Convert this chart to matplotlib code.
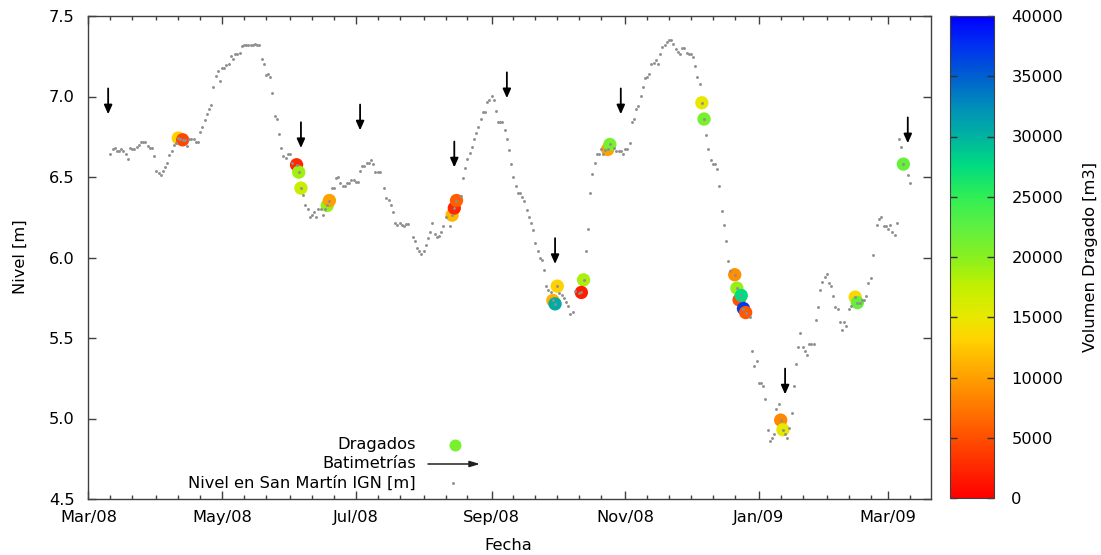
import datetime as dt
import numpy as np
import matplotlib
matplotlib.use("Agg")
import matplotlib.pyplot as plt
import matplotlib.dates as mdates
from matplotlib.colors import LinearSegmentedColormap, Normalize
from matplotlib.cm import ScalarMappable

plt.rcParams["font.family"] = ["DejaVu Sans"]
plt.rcParams["font.size"] = 11.7

inicio = dt.datetime(2008, 3, 1)

# Nivel diario en San Martín (días desde el 1/3/2008, nivel en m IGN)
nivel_dias = [
    10, 11, 12, 13, 14, 15, 16, 17, 18, 19, 20, 21, 22, 23, 24, 25, 26, 27, 28, 29,
    30, 31, 32, 33, 34, 35, 36, 37, 38, 39, 40, 41, 42, 43, 44, 45, 46, 47, 48, 49,
    50, 51, 52, 53, 54, 55, 56, 57, 58, 59, 60, 61, 62, 63, 64, 65, 66, 67, 68, 69,
    70, 71, 72, 73, 74, 75, 76, 77, 78, 79, 80, 81, 82, 83, 84, 85, 86, 87, 88, 89,
    90, 91, 92, 93, 95, 96, 97, 98, 99, 100, 101, 102, 103, 104, 105, 106, 107, 108, 109,
    110, 111, 112, 113, 114, 115, 116, 117, 118, 119, 120, 121, 122, 123, 124, 125, 126,
    127, 128, 129, 130, 131, 132, 133, 135, 136, 137, 138, 139, 140, 141, 142, 143, 144,
    145, 146, 148, 149, 150, 151, 152, 153, 154, 155, 156, 157, 158, 159, 160, 161, 162,
    163, 165, 166, 167, 168, 170, 171, 172, 173, 174, 175, 176, 177, 178, 179, 180, 181,
    182, 183, 184, 185, 186, 187, 188, 189, 190, 191, 192, 193, 194, 195, 196, 197, 198,
    199, 200, 201, 202, 203, 204, 205, 206, 207, 208, 209, 210, 211, 212, 213, 214, 215,
    216, 217, 218, 219, 220, 221, 222, 224, 225, 226, 227, 228, 229, 230, 231, 232, 233,
    234, 235, 236, 237, 238, 240, 241, 242, 243, 244, 245, 246, 247, 248, 249, 250, 251,
    252, 253, 254, 255, 256, 257, 258, 259, 260, 261, 262, 263, 264, 265, 266, 267, 268,
    269, 270, 271, 272, 273, 274, 275, 276, 277, 278, 279, 280, 281, 282, 283, 284, 285,
    286, 287, 288, 289, 290, 291, 292, 293, 295, 296, 297, 298, 299, 300, 302, 303, 304,
    305, 306, 307, 308, 309, 310, 311, 312, 313, 314, 315, 316, 317, 318, 319, 320, 321,
    322, 323, 324, 325, 326, 327, 328, 329, 330, 331, 332, 333, 334, 335, 336, 337, 338,
    339, 340, 341, 342, 343, 344, 345, 346, 347, 348, 350, 351, 352, 353, 354, 355, 356,
    357, 358, 360, 361, 362, 363, 364, 365, 366, 367, 368, 369, 370, 371, 372, 374, 375,
]
nivel_m = [
    6.642, 6.673, 6.681, 6.663, 6.663, 6.673, 6.661, 6.640, 6.611, 6.681, 6.673, 6.673,
    6.686, 6.700, 6.720, 6.720, 6.720, 6.694, 6.681, 6.681,
    6.630, 6.540, 6.524, 6.512, 6.540, 6.561, 6.590, 6.636, 6.661, 6.698, 6.711, 6.742,
    6.735, 6.731, 6.731, 6.694, 6.739, 6.739, 6.739, 6.719,
    6.719, 6.781, 6.810, 6.851, 6.893, 6.922, 6.950, 7.058, 7.129, 7.161, 7.099, 7.174,
    7.174, 7.195, 7.203, 7.253, 7.232, 7.261, 7.265, 7.270,
    7.311, 7.319, 7.319, 7.319, 7.319, 7.319, 7.327, 7.319, 7.319, 7.236, 7.199, 7.133,
    7.141, 7.120, 7.021, 6.880, 6.860, 6.768, 6.681, 6.632,
    6.619, 6.640, 6.640, 6.590, 6.576, 6.530, 6.431, 6.391, 6.329, 6.301, 6.251, 6.263,
    6.280, 6.251, 6.304, 6.304, 6.263, 6.304, 6.323,
    6.354, 6.429, 6.429, 6.491, 6.503, 6.462, 6.441, 6.441, 6.462, 6.462, 6.483, 6.483,
    6.470, 6.470, 6.540, 6.570, 6.570,
    6.590, 6.590, 6.607, 6.578, 6.532, 6.532, 6.532, 6.433, 6.371, 6.358, 6.329, 6.284,
    6.217, 6.201, 6.217, 6.201, 6.193,
    6.209, 6.209, 6.127, 6.102, 6.060, 6.043, 6.019, 6.040, 6.077, 6.122, 6.160, 6.217,
    6.143, 6.127, 6.135, 6.160, 6.193,
    6.251, 6.193, 6.263, 6.307, 6.354, 6.379, 6.491, 6.553, 6.611, 6.648, 6.686, 6.739,
    6.773, 6.810, 6.860, 6.901, 6.901,
    6.963, 6.980, 7.004, 6.980, 6.913, 6.843, 6.843, 6.843, 6.789, 6.739, 6.665, 6.578,
    6.499, 6.441, 6.400, 6.400, 6.375,
    6.350, 6.292, 6.251, 6.217, 6.172, 6.089, 6.040, 5.998, 5.986, 5.924, 5.824, 5.799,
    5.783, 5.733, 5.712, 5.822, 5.779,
    5.766, 5.750, 5.725, 5.696, 5.650, 5.663, 5.791, 5.779, 5.783, 5.861, 6.040, 6.180,
    6.400, 6.520, 6.590, 6.640, 6.640,
    6.677, 6.644, 6.669, 6.671, 6.702, 6.681, 6.661, 6.661, 6.661, 6.640, 6.673, 6.673,
    6.711, 6.839, 6.860, 6.922, 6.942,
    7.004, 7.058, 7.112, 7.120, 7.141, 7.199, 7.211, 7.224, 7.199, 7.261, 7.307, 7.319,
    7.340, 7.352, 7.352, 7.327, 7.298,
    7.278, 7.261, 7.302, 7.302, 7.270, 7.261, 7.261, 7.248, 7.191, 7.120, 7.079, 6.961,
    6.860, 6.760, 6.673, 6.603, 6.578,
    6.578, 6.549, 6.441, 6.288, 6.201, 6.102, 5.981, 5.919, 5.893, 5.810, 5.737, 5.764,
    5.683, 5.658, 5.630, 5.422, 5.327,
    5.360, 5.220, 5.220, 5.199, 5.120, 4.930, 4.860, 4.876, 4.901, 5.058, 5.091, 4.990,
    4.930, 4.901, 4.876, 4.942, 5.037,
    5.199, 5.340, 5.443, 5.534, 5.447, 5.422, 5.397, 5.460, 5.460, 5.460, 5.609, 5.692,
    5.799, 5.849, 5.878, 5.899, 5.841,
    5.820, 5.762, 5.692, 5.680, 5.602, 5.551, 5.602, 5.576, 5.680, 5.696, 5.754, 5.720,
    5.720, 5.737, 5.737, 5.762, 5.841,
    5.870, 6.015, 6.199, 6.238, 6.251, 6.193, 6.193, 6.180, 6.201, 6.160, 6.139, 6.217,
    6.739, 6.689, 6.580, 6.512, 6.462,
]

# Dragados: día, nivel del día y volumen dragado [m3]
dragado_dias = [41, 43, 95, 96, 97, 109, 110, 166, 167, 168, 212, 213, 214, 226, 225,
                237, 238, 280, 281, 295, 296, 297, 298, 299, 300, 316, 317, 350, 351, 372]
dragado_nivel = [6.742, 6.731, 6.576, 6.530, 6.431, 6.323, 6.354, 6.263, 6.307, 6.354,
                 5.733, 5.712, 5.822, 5.861, 5.783, 6.671, 6.702, 6.961, 6.860, 5.893,
                 5.810, 5.737, 5.764, 5.683, 5.658, 4.990, 4.930, 5.754, 5.720, 6.580]
dragado_volumen = [13000, 4500, 2500, 19000, 17000, 19500, 10000, 11500, 2500, 6000,
                   11000, 30500, 13000, 18500, 2000, 10000, 21000, 15000, 21000, 9000,
                   19500, 5000, 27500, 37000, 5500, 8500, 15000, 13500, 22000, 22000]

# Batimetrías: día y nivel donde apunta la flecha
batimetria_dias = [9, 97, 124, 167, 191, 213, 243, 318, 374]
batimetria_nivel = [6.89, 6.68, 6.79, 6.56, 6.99, 5.96, 6.89, 5.15, 6.71]

ticks_volumen = [0, 5000, 10000, 15000, 20000, 25000, 30000, 35000, 40000]
ticks_nivel = [4.5, 5.0, 5.5, 6.0, 6.5, 7.0, 7.5]


def a_fecha(dias):
    return [inicio + dt.timedelta(days=d) for d in dias]


paleta = LinearSegmentedColormap.from_list("dragado", [
    (0.000, "#ff0000"), (0.125, "#ff5000"), (0.250, "#ffa000"), (0.330, "#ffd400"),
    (0.375, "#e8e800"), (0.440, "#c0f000"), (0.500, "#88f020"), (0.560, "#60f040"),
    (0.625, "#30ee55"), (0.690, "#00dc80"), (0.750, "#00b4a0"), (0.810, "#0090b8"),
    (0.875, "#0060d0"), (0.940, "#0030f0"), (1.000, "#0000ff"),
])
norma = Normalize(0, 40000)

W, H = 1101, 555
fig = plt.figure(figsize=(W / 100, H / 100), dpi=100)
ax = fig.add_axes([88 / W, 1 - 499 / H, (931 - 88) / W, (499 - 16) / H])
cax = fig.add_axes([950 / W, 1 - 498 / H, 44 / W, 482 / H])

borde = "#404040"
gris = "#8f8f8f"

# Dragados coloreados por volumen
ax.scatter(a_fecha(dragado_dias), dragado_nivel, c=dragado_volumen, cmap=paleta,
           norm=norma, s=92, edgecolors="none", zorder=2)

# Serie de niveles
ax.plot(a_fecha(nivel_dias), nivel_m, ls="none", marker="o", ms=2.1,
        color=gris, mec="none", zorder=3)

# Flechas de batimetrías
largo = 0.16
estilo = "-|>,head_length=0.45,head_width=0.2"
for f, n in zip(a_fecha(batimetria_dias), batimetria_nivel):
    ax.annotate("", xy=(f, n), xytext=(f, n + largo),
                arrowprops=dict(arrowstyle=estilo, color="black", lw=1.3,
                                shrinkA=0, shrinkB=0, mutation_scale=12), zorder=4)

ax.set_xlim(inicio - dt.timedelta(days=0.2), inicio + dt.timedelta(days=384.6))
ax.set_ylim(4.5, 7.5)
ax.set_yticks(ticks_nivel)
ax.yaxis.set_major_formatter(plt.FormatStrFormatter("%.1f"))
ax.xaxis.set_major_locator(mdates.MonthLocator(bymonth=[1, 3, 5, 7, 9, 11]))
ax.xaxis.set_major_formatter(mdates.DateFormatter("%b/%y"))
ax.xaxis.set_minor_locator(mdates.DayLocator(bymonthday=[1, 11, 21]))

ax.tick_params(which="both", direction="in", top=True, right=True, color=borde, width=1)
ax.tick_params(which="major", length=6)
ax.tick_params(which="minor", length=3)
ax.tick_params(axis="y", pad=9.7)
ax.tick_params(axis="x", pad=8)
for s in ax.spines.values():
    s.set_color(borde)
    s.set_linewidth(1)

fig.text(20 / W, 1 - 257 / H, "Nivel [m]", rotation=90, ha="center", va="center")
fig.text(508 / W, 1 - 545 / H, "Fecha", ha="center", va="center")

# Leyenda
def ax_xy(px, py):
    return ((px - 88) / 843, (499 - py) / 483)

tx = ax_xy(416, 0)[0]
filas = [445, 464, 483]
textos = ["Dragados", "Batimetrías", "Nivel en San Martín IGN [m]"]
for py, t in zip(filas, textos):
    ax.text(tx, ax_xy(0, py)[1], t, transform=ax.transAxes, ha="right", va="center")
ax.plot(*ax_xy(455, filas[0]), transform=ax.transAxes, marker="o", ms=8.6,
        color=paleta(norma(21000)), mec="none", clip_on=False)
ax.annotate("", xy=ax_xy(480, filas[1]), xytext=ax_xy(428, filas[1]),
            xycoords="axes fraction", textcoords="axes fraction",
            arrowprops=dict(arrowstyle="-|>,head_length=0.5,head_width=0.15",
                            color="#202020", lw=1.1, shrinkA=0, shrinkB=0,
                            mutation_scale=12))
ax.plot(*ax_xy(453, filas[2]), transform=ax.transAxes, marker="o", ms=2.1,
        color=gris, mec="none", clip_on=False)

# Barra de color
cb = fig.colorbar(ScalarMappable(norm=norma, cmap=paleta), cax=cax)
cb.set_ticks(ticks_volumen)
cb.outline.set_edgecolor(borde)
cb.outline.set_linewidth(0.8)
cax.tick_params(direction="in", left=True, right=True, length=5, width=1,
                color="#303030", pad=12.5)
fig.text(1090 / W, 1 - 257 / H, "Volumen Dragado [m3]", rotation=90,
         ha="center", va="center")

fig.savefig("out.png", dpi=100)
